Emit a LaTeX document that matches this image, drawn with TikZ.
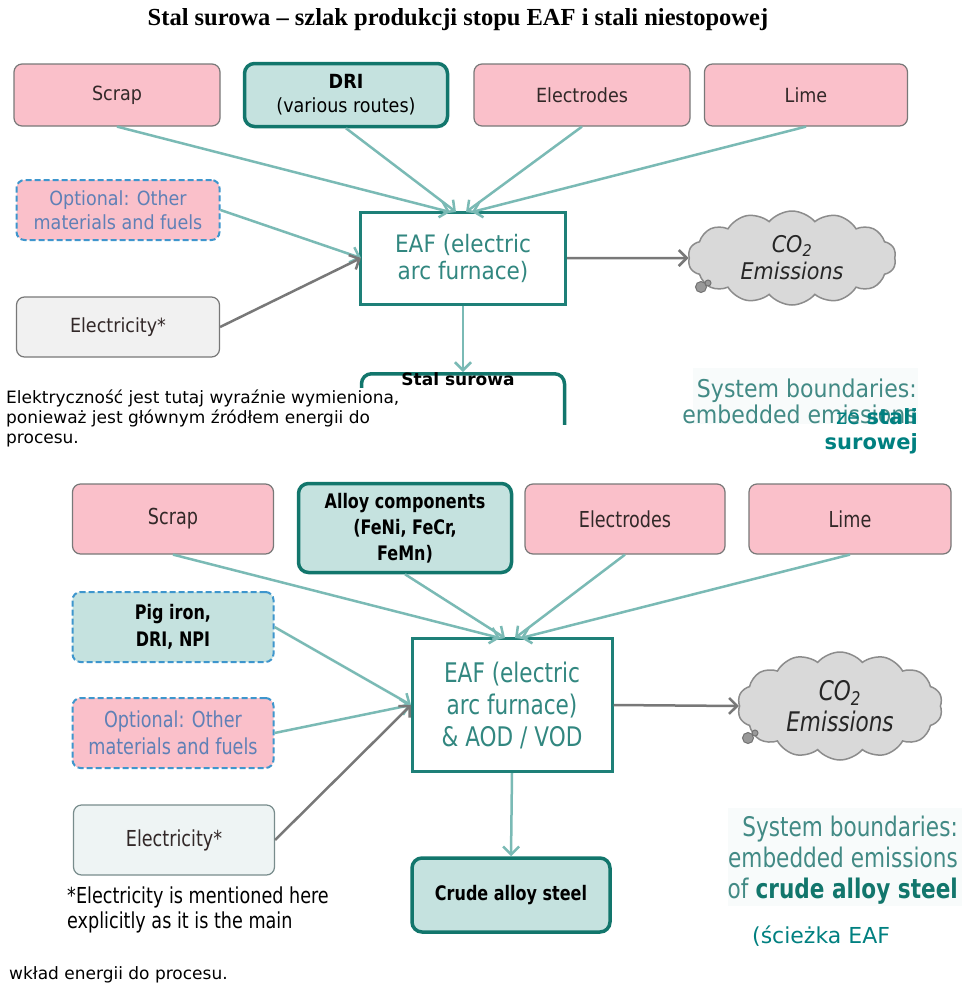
\documentclass[tikz,border=0pt]{standalone}
\usepackage{fontspec}
\setmainfont{Liberation Serif}
\newfontfamily\vfont{DejaVu Sans}
\newfontfamily\tfont{DejaVu Sans}[FakeStretch=0.9]
\newfontfamily\cfont{DejaVu Sans}[FakeStretch=0.8]
\usetikzlibrary{arrows.meta,shapes.symbols}
\newcommand{\myfs}[2]{\fontsize{#1}{#2}\selectfont}
\definecolor{pinkf}{RGB}{250,192,202}
\definecolor{boxgray}{RGB}{120,120,120}
\definecolor{tealf}{RGB}{197,226,223}
\definecolor{tealdk}{RGB}{18,118,108}
\definecolor{eafc}{RGB}{30,128,120}
\definecolor{eaftxt}{RGB}{50,135,128}
\definecolor{arrteal}{RGB}{122,186,181}
\definecolor{dashblue}{RGB}{62,150,205}
\definecolor{opttxt}{RGB}{95,128,182}
\definecolor{elfill}{RGB}{241,241,241}
\definecolor{elfillB}{RGB}{238,244,244}
\definecolor{elborB}{RGB}{120,140,140}
\definecolor{cloudf}{RGB}{217,217,217}
\definecolor{cloudd}{RGB}{140,140,140}
\definecolor{arrgray}{RGB}{120,120,120}
\definecolor{sbtxt}{RGB}{66,138,133}
\definecolor{sbbold}{RGB}{0,128,128}
\definecolor{sbbg}{RGB}{248,251,251}
\definecolor{boxtxt}{RGB}{50,40,40}
\tikzset{
  box/.style={rectangle, rounded corners=8pt, draw=boxgray, line width=1.2pt, align=center, inner sep=2pt, text=boxtxt},
  pinkbox/.style={box, fill=pinkf},
  tealbox/.style={box, fill=tealf, draw=tealdk, line width=3.5pt, rounded corners=10pt, text=black},
  dashbox/.style={box, draw=dashblue, dash pattern=on 6pt off 3pt, line width=2pt},
  elbox/.style={box, fill=elfill},
  eafbox/.style={rectangle, draw=eafc, line width=3pt, fill=white, align=center, text=eaftxt},
  emis/.style={cloud, cloud puffs=14, cloud puff arc=100, aspect=2.2, draw=cloudd, fill=cloudf, line width=1.5pt, align=center, inner sep=0pt, text=black!85},
  tarr/.style={draw=arrteal, line width=2.5pt, -{Straight Barb[length=8pt,width=16pt]}},
  garr/.style={tarr, draw=arrgray},
  puff/.style={circle, draw=black!55, fill=black!40, line width=1pt, inner sep=0pt},
  topf/.style={font=\tfont\myfs{19.5}{24}},
  botf/.style={font=\cfont\myfs{22}{27}},
  notel/.style={anchor=base west, inner sep=0pt, font=\vfont\myfs{17}{20}}
}
\begin{document}
\begin{tikzpicture}[x=1pt,y=-1pt]
\useasboundingbox (0,0) rectangle (962,983);
\fill[white] (0,0) rectangle (962,983);

% title
\node[font=\bfseries\myfs{24.5}{28}] (title) at (458,20) {Stal surowa – szlak produkcji stopu EAF i stali niestopowej};

% ---------- top diagram ----------
\node[pinkbox, topf, minimum width=206pt, minimum height=62pt] (scrapA) at (117,95) {Scrap};
\node[tealbox, topf, minimum width=203pt, minimum height=63pt] (driA) at (346,95) {\textbf{DRI}\\(various routes)};
\node[pinkbox, topf, minimum width=216pt, minimum height=62pt] (elecA) at (582,95) {Electrodes};
\node[pinkbox, topf, minimum width=203pt, minimum height=62pt] (limeA) at (806,95) {Lime};
\node[dashbox, topf, fill=pinkf, text=opttxt, minimum width=203pt, minimum height=60pt] (optA) at (118,210) {Optional: Other\\materials and fuels};
\node[elbox, topf, minimum width=203pt, minimum height=60pt] (eltA) at (118,327) {Electricity*};
\node[eafbox, font=\tfont\myfs{24}{27}, minimum width=205pt, minimum height=92pt] (eafA) at (463,258) {EAF (electric\\arc furnace)};
\node[emis, font=\tfont\itshape\myfs{23}{27}, minimum width=208pt, minimum height=94pt] (co2A) at (792,258) {CO\textsubscript{2}\\Emissions};
\node[puff, minimum size=11pt] (pa1) at (701,287) {};
\node[puff, minimum size=6pt] (pa2) at (708,283) {};

\coordinate (inA1) at (450,212);
\coordinate (inA2) at (456,212);
\coordinate (inA3) at (466,212);
\coordinate (inA4) at (472,212);
\coordinate (inA5) at (361,258);
\draw[tarr] (scrapA.south) -- (inA1);
\draw[tarr] (driA.south) -- (inA2);
\draw[tarr] (elecA.south) -- (inA3);
\draw[tarr] (limeA.south) -- (inA4);
\draw[tarr] (optA.east) -- (inA5);
\draw[garr] (eltA.east) -- (inA5);
\draw[garr] (eafA.east) -- (co2A.west);

\begin{scope}
  \clip (0,0) rectangle (962,424);
  \node[rectangle, rounded corners=10pt, draw=tealdk, line width=3.5pt, minimum width=203pt, minimum height=74pt, anchor=north] (stalA) at (463,372) {};
\end{scope}
\draw[tarr] (eafA.south) -- (stalA.north);

\fill[white] (0,388) rectangle (420,450);
\node[notel] (noteA1) at (6,403) {Elektryczność jest tutaj wyraźnie wymieniona,};
\node[notel] (noteA2) at (6,423) {ponieważ jest głównym źródłem energii do};
\node[notel] (noteA3) at (6,443) {procesu.};
\node[font=\vfont\bfseries\myfs{17}{20}, inner sep=0pt, anchor=base] (stalT) at (458,385) {Stal surowa};

\fill[sbbg] (693,368) rectangle (918,424);
\node[anchor=base east, inner sep=0pt, font=\tfont\myfs{24.5}{26}, text=sbtxt] (sbA1) at (917,397) {System boundaries:};
\begin{scope}
  \clip (0,0) rectangle (962,424);
  \node[anchor=base east, inner sep=0pt, font=\tfont\myfs{24.5}{26}, text=sbtxt] (sbA2) at (917,423) {embedded emissions};
\end{scope}
\node[anchor=base east, inner sep=0pt, font=\vfont\myfs{21}{24}, text=sbbold] (sbA3) at (918,424) {ze \textbf{stali}};
\node[anchor=base east, inner sep=0pt, font=\vfont\bfseries\myfs{21}{24}, text=sbbold] (sbA4) at (918,449) {surowej};

% ---------- bottom diagram ----------
\node[pinkbox, botf, minimum width=201pt, minimum height=70pt] (scrapB) at (173,519) {Scrap};
\node[tealbox, font=\cfont\bfseries\myfs{20}{26}, minimum width=213pt, minimum height=89pt] (alloyB) at (405,528) {Alloy components\\(FeNi, FeCr,\\FeMn)};
\node[pinkbox, botf, minimum width=200pt, minimum height=70pt] (elecB) at (625,519) {Electrodes};
\node[pinkbox, botf, minimum width=202pt, minimum height=70pt] (limeB) at (850,519) {Lime};
\node[dashbox, font=\cfont\bfseries\myfs{20}{27}, fill=tealf, text=black, minimum width=201pt, minimum height=70pt] (pigB) at (173,627) {Pig iron,\\DRI, NPI};
\node[dashbox, botf, fill=pinkf, text=opttxt, minimum width=201pt, minimum height=70pt] (optB) at (173,733) {Optional: Other\\materials and fuels};
\node[elbox, botf, fill=elfillB, draw=elborB, minimum width=201pt, minimum height=70pt] (eltB) at (174,840) {Electricity*};
\node[eafbox, font=\cfont\myfs{27}{32}, minimum width=200pt, minimum height=133pt] (eafB) at (512,705) {EAF (electric\\arc furnace)\\\& AOD / VOD};
\node[emis, font=\cfont\itshape\myfs{27}{31}, minimum width=205pt, minimum height=108pt] (co2B) at (840,706) {CO\textsubscript{2}\\Emissions};
\node[puff, minimum size=11pt] (pb1) at (748,738) {};
\node[puff, minimum size=6pt] (pb2) at (755,733) {};
\node[tealbox, font=\cfont\bfseries\myfs{20}{24}, minimum width=198pt, minimum height=74pt] (crudeB) at (511,895) {Crude alloy steel};

\coordinate (inB1) at (500,638);
\coordinate (inB2) at (505,638);
\coordinate (inB3) at (515,638);
\coordinate (inB4) at (521,638);
\coordinate (inB5) at (411,705);
\draw[tarr] (scrapB.south) -- (inB1);
\draw[tarr] (alloyB.south) -- (inB2);
\draw[tarr] (elecB.south) -- (inB3);
\draw[tarr] (limeB.south) -- (inB4);
\draw[tarr] (pigB.east) -- (inB5);
\draw[tarr] (optB.east) -- (inB5);
\draw[garr] (eltB.east) -- (inB5);
\draw[garr] (eafB.east) -- (co2B.west);
\draw[tarr] (eafB.south) -- (crudeB.north);

\node[anchor=base west, inner sep=0pt, font=\cfont\myfs{22}{26}] (noteB1) at (67,903) {*Electricity is mentioned here};
\node[anchor=base west, inner sep=0pt, font=\cfont\myfs{22}{26}] (noteB2) at (67,928) {explicitly as it is the main};

\fill[sbbg] (728,808) rectangle (962,906);
\node[anchor=base east, inner sep=0pt, font=\cfont\myfs{27}{31}, text=sbtxt] (sbB1) at (958,836) {System boundaries:};
\node[anchor=base east, inner sep=0pt, font=\cfont\myfs{27}{31}, text=sbtxt] (sbB2) at (958,867) {embedded emissions};
\node[anchor=base east, inner sep=0pt, font=\cfont\myfs{27}{31}, text=sbtxt] (sbB3) at (958,898) {of \textbf{\color{tealdk}crude alloy steel}};

\node[anchor=base west, inner sep=0pt, font=\vfont\myfs{22}{26}, text=sbbold] (pathB) at (752,943) {(ścieżka EAF};
\node[anchor=base west, inner sep=0pt, font=\vfont\myfs{17}{20}] (wklad) at (9,979) {wkład energii do procesu.};
\end{tikzpicture}
\end{document}
